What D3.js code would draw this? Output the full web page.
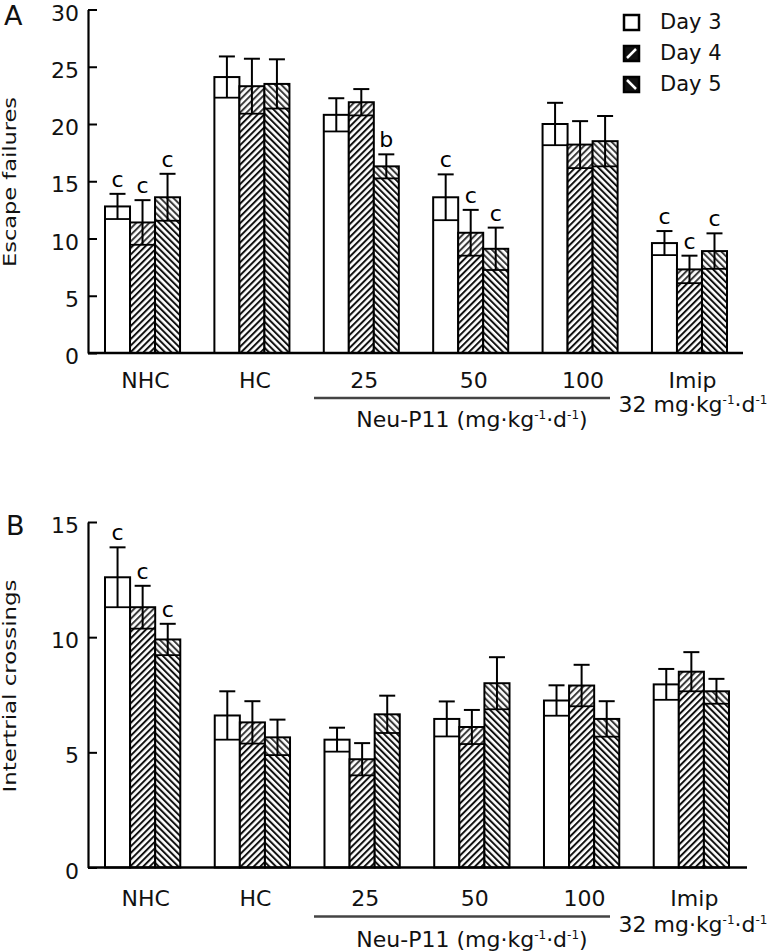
<!DOCTYPE html>
<html>
<head>
<meta charset="utf-8">
<script src="https://cdn.jsdelivr.net/npm/d3@7"></script>
<style>
  html, body { margin: 0; padding: 0; background: #fff; }
  svg { display: block; font-family: "DejaVu Sans", sans-serif; }
</style>
</head>
<body>
<svg id="chart" width="777" height="951"></svg>
<script>
// ---------------- data ----------------
const groups = ["NHC", "HC", "25", "50", "100", "Imip"];
const days = ["Day 3", "Day 4", "Day 5"];

// Panel A: escape failures
const escapeDay3 = [12.8, 24.1, 20.8, 13.6, 20.0, 9.6];
const escapeDay4 = [11.4, 23.3, 21.9, 10.5, 18.2, 7.3];
const escapeDay5 = [13.6, 23.5, 16.3, 9.1, 18.5, 8.9];
const escapeErr3 = [1.1, 1.8, 1.45, 2.0, 1.85, 1.05];
const escapeErr4 = [1.95, 2.4, 1.15, 2.0, 2.05, 1.2];
const escapeErr5 = [2.05, 2.15, 1.05, 1.85, 2.2, 1.55];
const escapeSig3 = ["c", "", "", "c", "", "c"];
const escapeSig4 = ["c", "", "", "c", "", "c"];
const escapeSig5 = ["c", "", "b", "c", "", "c"];
const escapeTicks = [0, 5, 10, 15, 20, 25, 30];

// Panel B: intertrial crossings
const crossDay3 = [12.6, 6.6, 5.55, 6.45, 7.25, 7.95];
const crossDay4 = [11.3, 6.3, 4.7, 6.1, 7.9, 8.5];
const crossDay5 = [9.9, 5.65, 6.65, 8.0, 6.45, 7.65];
const crossErr3 = [1.3, 1.05, 0.52, 0.76, 0.66, 0.67];
const crossErr4 = [0.93, 0.92, 0.7, 0.74, 0.9, 0.85];
const crossErr5 = [0.68, 0.77, 0.81, 1.13, 0.77, 0.54];
const crossSig3 = ["c", "", "", "", "", ""];
const crossSig4 = ["c", "", "", "", "", ""];
const crossSig5 = ["c", "", "", "", "", ""];
const crossTicks = [0, 5, 10, 15];

// ---------------- drawing ----------------
const svg = d3.select("#chart");
const FONT = "DejaVu Sans";
const defs = svg.append("defs");

function hatch(id, angle) {
  const p = defs.append("pattern")
    .attr("id", id)
    .attr("patternUnits", "userSpaceOnUse")
    .attr("width", 4.6).attr("height", 4.6)
    .attr("patternTransform", `rotate(${angle})`);
  p.append("rect").attr("width", 4.6).attr("height", 4.6).attr("fill", "#fff");
  p.append("line").attr("x1", 1).attr("y1", -1).attr("x2", 1).attr("y2", 6)
    .attr("stroke", "#111").attr("stroke-width", 2);
}
hatch("h4", 45);   // "/" stripes
hatch("h5", -45);  // "\" stripes
const fills = ["#fff", "url(#h4)", "url(#h5)"];

function drawPanel(o) {
  const g = svg.append("g");
  const y = d3.scaleLinear().domain([0, o.ymax]).range([o.y0, o.yTop]);
  const x = d3.scaleBand().domain(groups).range(o.xRange).paddingInner(0.314).paddingOuter(0);
  const xi = d3.scaleBand().domain(days).range([0, x.bandwidth()]);

  const series = days.map((d, k) => groups.map((gname, i) => ({
    group: gname, day: d, k,
    v: o.values[k][i], e: o.errs[k][i], s: o.sigs[k][i]
  })));

  // bars
  series.forEach(arr => {
    arr.forEach(d => {
      const bx = x(d.group) + xi(d.day);
      const bw = xi.bandwidth();
      g.append("rect")
        .attr("x", bx).attr("y", y(d.v))
        .attr("width", bw).attr("height", y(0) - y(d.v))
        .attr("fill", fills[d.k])
        .attr("stroke", "#000").attr("stroke-width", 2);
      if (d.k > 0) {
        g.append("rect")
          .attr("x", bx + 1).attr("y", y(d.v) + 1)
          .attr("width", bw - 2).attr("height", y(d.v - d.e) - y(d.v) - 1)
          .attr("fill", "#fff").attr("opacity", 0.18);
      }
      // lower end of error region: full-width line
      g.append("line")
        .attr("x1", bx).attr("x2", bx + bw)
        .attr("y1", y(d.v - d.e)).attr("y2", y(d.v - d.e))
        .attr("stroke", "#000").attr("stroke-width", 1.8);
      const cx = bx + bw / 2;
      g.append("line")
        .attr("x1", cx).attr("x2", cx)
        .attr("y1", y(d.v - d.e)).attr("y2", y(d.v + d.e))
        .attr("stroke", "#000").attr("stroke-width", 2);
      g.append("line")
        .attr("x1", cx - 8).attr("x2", cx + 8)
        .attr("y1", y(d.v + d.e)).attr("y2", y(d.v + d.e))
        .attr("stroke", "#000").attr("stroke-width", 2);
      if (d.s) {
        g.append("text")
          .attr("x", cx).attr("y", y(d.v + d.e) - 7)
          .attr("text-anchor", "middle")
          .attr("font-family", FONT).attr("font-size", 22)
          .text(d.s);
      }
    });
  });

  // y axis
  const ya = g.append("g").attr("transform", `translate(${o.axisX},0)`)
    .call(d3.axisLeft(y).tickValues(o.ticks).tickSizeInner(-9).tickSizeOuter(0).tickPadding(9));
  ya.select(".domain").attr("stroke", "#000").attr("stroke-width", 2.2);
  ya.selectAll(".tick line").attr("stroke", "#000").attr("stroke-width", 2);
  ya.selectAll(".tick text").attr("font-family", FONT).attr("font-size", 22).attr("fill", "#111")
    .attr("dy", "0.48em");

  // x axis baseline
  g.append("line")
    .attr("x1", o.axisX).attr("x2", o.xEnd)
    .attr("y1", y(0)).attr("y2", y(0))
    .attr("stroke", "#000").attr("stroke-width", 2.5);

  // x category labels
  const xa = g.append("g").attr("transform", `translate(3,${y(0)})`)
    .call(d3.axisBottom(x).tickSize(0).tickPadding(0));
  xa.select(".domain").remove();
  xa.selectAll(".tick text")
    .attr("font-family", FONT).attr("font-size", 22).attr("fill", "#111")
    .attr("dy", null).attr("y", o.labelOff);

  // Neu-P11 bracket line
  g.append("line")
    .attr("x1", 314).attr("x2", 610)
    .attr("y1", y(0) + o.lineOff).attr("y2", y(0) + o.lineOff)
    .attr("stroke", "#444").attr("stroke-width", 2.5);

  const t1 = g.append("text")
    .attr("x", 472).attr("y", y(0) + o.neuOff)
    .attr("text-anchor", "middle")
    .attr("font-family", FONT).attr("font-size", 22).attr("fill", "#111");
  t1.append("tspan").text("Neu-P11 (mg·kg");
  t1.append("tspan").attr("dy", -8).attr("font-size", 12).text("-1");
  t1.append("tspan").attr("dy", 8).text("·d");
  t1.append("tspan").attr("dy", -8).attr("font-size", 12).text("-1");
  t1.append("tspan").attr("dy", 8).text(")");

  const t2 = g.append("text")
    .attr("x", 693).attr("y", y(0) + o.imipOff)
    .attr("text-anchor", "middle")
    .attr("font-family", FONT).attr("font-size", 22).attr("fill", "#111");
  t2.append("tspan").text("32 mg·kg");
  t2.append("tspan").attr("dy", -8).attr("font-size", 12).text("-1");
  t2.append("tspan").attr("dy", 8).text("·d");
  t2.append("tspan").attr("dy", -8).attr("font-size", 12).text("-1");

  // y-axis title
  g.append("text")
    .attr("transform", `translate(${o.titleX},${o.titleY}) rotate(-90)`)
    .attr("text-anchor", "middle")
    .attr("font-family", FONT).attr("font-size", 18).attr("fill", "#111")
    .attr("textLength", o.titleLen).attr("lengthAdjust", "spacingAndGlyphs")
    .text(o.title);

  // panel letter
  g.append("text")
    .attr("x", o.letterX).attr("y", o.letterY)
    .attr("font-family", FONT).attr("font-size", 27).attr("fill", "#111")
    .text(o.letter);
}

drawPanel({
  values: [escapeDay3, escapeDay4, escapeDay5],
  errs: [escapeErr3, escapeErr4, escapeErr5],
  sigs: [escapeSig3, escapeSig4, escapeSig5],
  ticks: escapeTicks, ymax: 30,
  y0: 353, yTop: 9.5, axisX: 88, xEnd: 743, xRange: [105, 727],
  labelOff: 35, lineOff: 45, neuOff: 74, imipOff: 59,
  title: "Escape failures", titleX: 16, titleY: 182, titleLen: 170,
  letter: "A", letterX: 4, letterY: 25
});

drawPanel({
  values: [crossDay3, crossDay4, crossDay5],
  errs: [crossErr3, crossErr4, crossErr5],
  sigs: [crossSig3, crossSig4, crossSig5],
  ticks: crossTicks, ymax: 15,
  y0: 867.5, yTop: 522, axisX: 88, xEnd: 747, xRange: [105, 729],
  labelOff: 38, lineOff: 49, neuOff: 79, imipOff: 64,
  title: "Intertrial crossings", titleX: 16, titleY: 686, titleLen: 213,
  letter: "B", letterX: 6, letterY: 535
});

// legend
const lg = svg.append("g");
days.forEach((d, k) => {
  const yy = 15 + k * 31;
  lg.append("rect").attr("x", 624).attr("y", yy).attr("width", 15).attr("height", 15)
    .attr("fill", k === 0 ? "#fff" : "#111").attr("stroke", "#000").attr("stroke-width", 2.5);
  if (k === 1) {
    lg.append("line").attr("x1", 636).attr("y1", yy + 3).attr("x2", 627).attr("y2", yy + 12)
      .attr("stroke", "#fff").attr("stroke-width", 2.5);
  } else if (k === 2) {
    lg.append("line").attr("x1", 627).attr("y1", yy + 3).attr("x2", 636).attr("y2", yy + 12)
      .attr("stroke", "#fff").attr("stroke-width", 2.5);
  }
  lg.append("text").attr("x", 660).attr("y", yy + 14)
    .attr("font-family", FONT).attr("font-size", 21).attr("fill", "#111")
    .text(d);
});
</script>
</body>
</html>
